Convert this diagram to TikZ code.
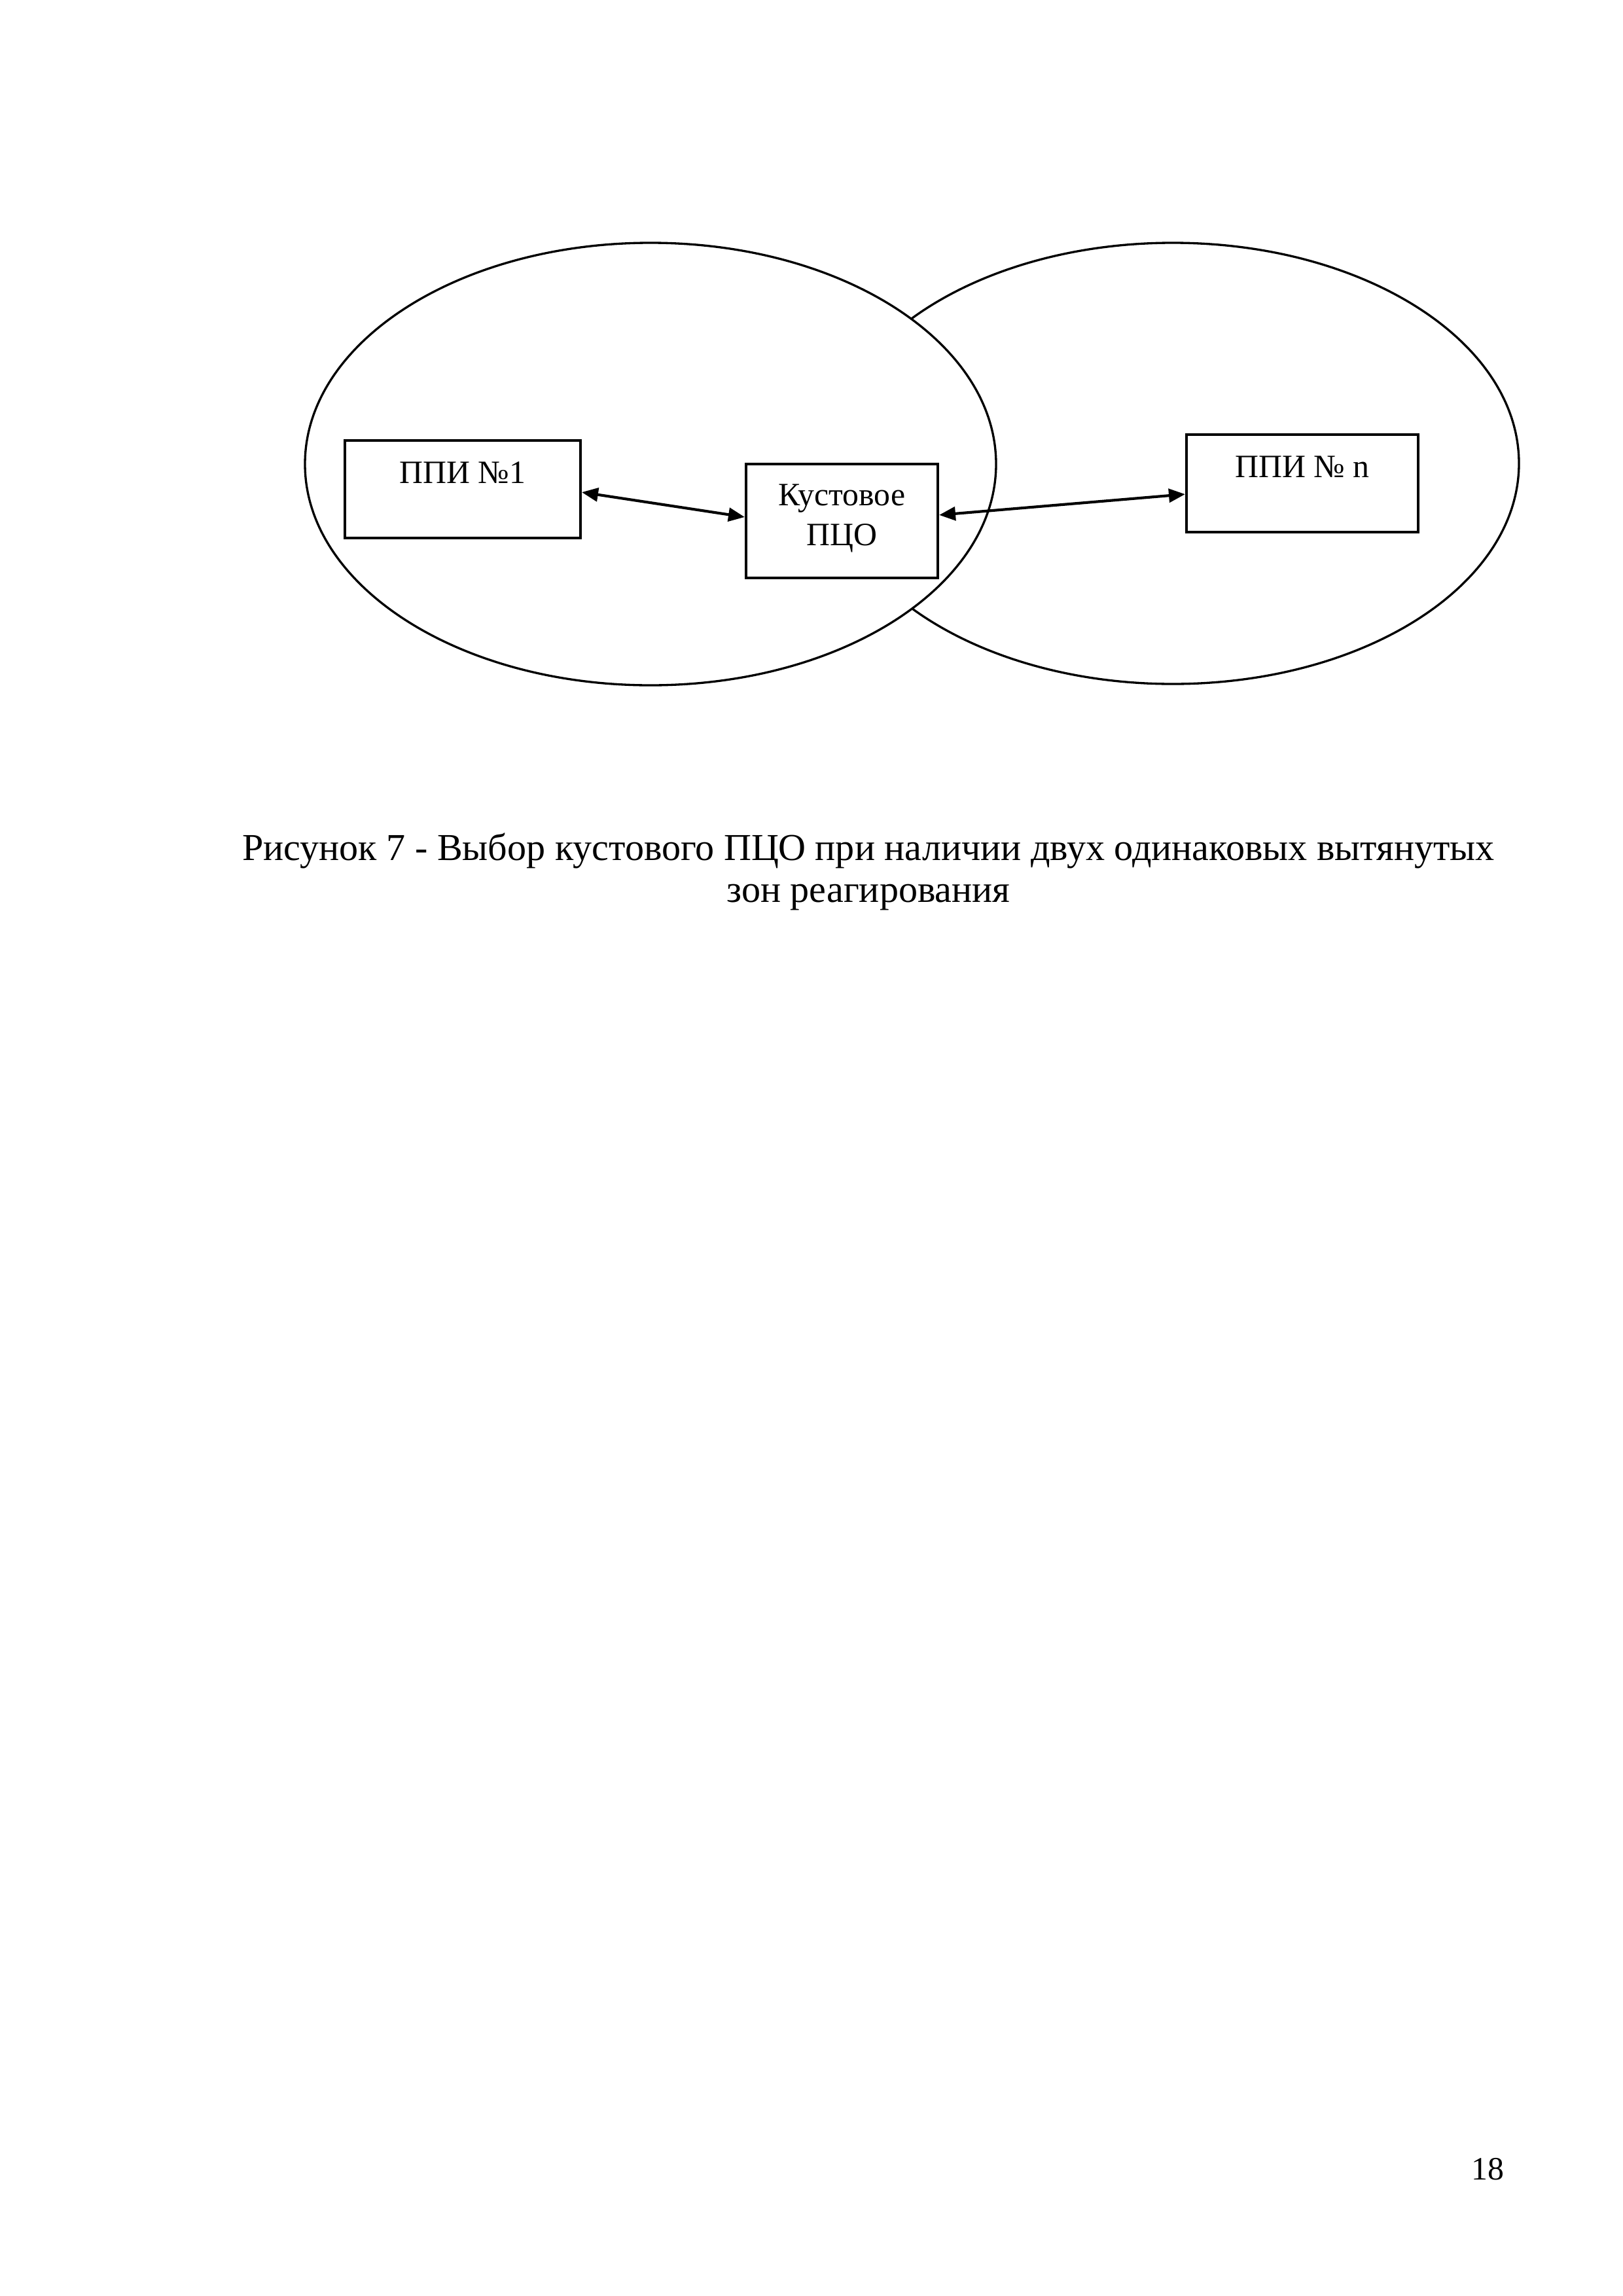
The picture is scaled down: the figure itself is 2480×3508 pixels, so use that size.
\documentclass[tikz,border=0pt]{standalone}
\usepackage{fontspec}
\setmainfont{Liberation Serif}
\usetikzlibrary{arrows.meta}
\begin{document}
\begin{tikzpicture}[x=0.084677mm,y=-0.084677mm,
  zone/.style={line width=0.8pt},
  unit/.style={draw, line width=1pt, fill=white, inner sep=0pt},
  link/.style={line width=1pt, {Triangle[length=6pt,width=5pt]}-{Triangle[length=6pt,width=5pt]}}]
\useasboundingbox (0,0) rectangle (2480,3508);
\fill[white] (0,0) rectangle (2480,3508);
% response zones
\draw[zone] (1792,708) ellipse [x radius=529, y radius=337];
\draw[zone, fill=white] (994,709) ellipse [x radius=528, y radius=338];
% units
\node[unit] (p1) at (707,747.5) {\parbox[c][35.9pt][t]{86.7pt}{\centering\fontsize{12}{14}\selectfont\rule{0pt}{15.66pt}ППИ №1}};
\node[unit] (pco) at (1286.5,796) {\parbox[c][41.9pt][t]{70.6pt}{\centering\fontsize{12}{14.7}\selectfont\rule{0pt}{15.2pt}Кустовое\\ПЦО}};
\node[unit] (pn) at (1990,738.5) {\parbox[c][35.9pt][t]{85.3pt}{\centering\fontsize{12}{14}\selectfont\rule{0pt}{15.66pt}ППИ № n}};
% links
\draw[link] ([yshift=-1.1pt]p1.east) -- ([yshift=1.45pt]pco.west);
\draw[link] ([yshift=2.2pt]pco.east) -- ([yshift=-4pt]pn.west);
% caption
\node[anchor=north, align=center, inner sep=0pt, font=\fontsize{14}{15.5}\selectfont] (cap) at (1327,1272) {Рисунок 7 - Выбор кустового ПЦО при наличии двух одинаковых вытянутых\\зон реагирования};
% page number
\node[anchor=base, inner sep=0pt, font=\fontsize{12}{14}\selectfont] (pg) at (2273,3330) {18};
\end{tikzpicture}
\end{document}
